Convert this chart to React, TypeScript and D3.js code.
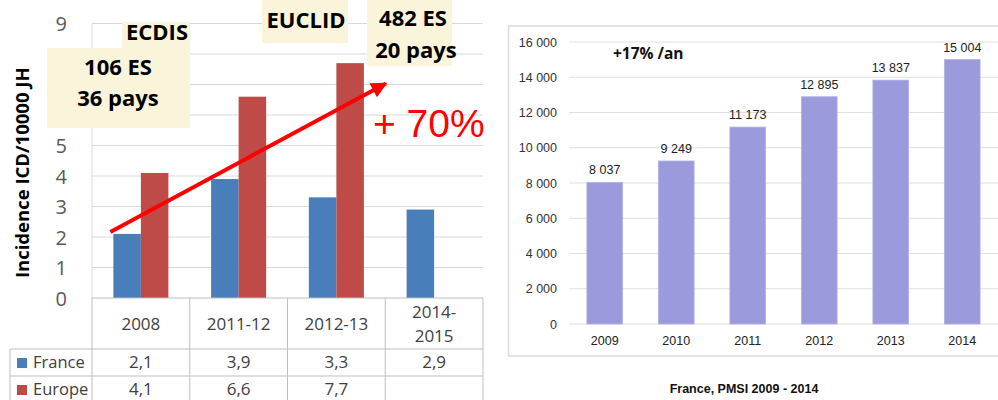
import * as d3 from "d3";

// left chart: ICD incidence per 10000 JH
const periods = ["2008", "2011-12", "2012-13", "2014-2015"];
const periodLines = [["2008"], ["2011-12"], ["2012-13"], ["2014-", "2015"]];
const france = [2.1, 3.9, 3.3, 2.9];
const europe: (number | null)[] = [4.1, 6.6, 7.7, null];
const leftTicks = [0, 1, 2, 3, 4, 5, 6, 7, 8, 9];

// right chart: PMSI counts
const years = ["2009", "2010", "2011", "2012", "2013", "2014"];
const counts = [8037, 9249, 11173, 12895, 13837, 15004];
const rightTicks = [0, 2000, 4000, 6000, 8000, 10000, 12000, 14000, 16000];

const BLUE = "#4a7ebb";
const RED = "#be4b48";
const BEIGE = "#faf4da";
const CAL = "'Open Sans', sans-serif";
const HEL = "'Liberation Sans', Arial, sans-serif";

const fr = d3.formatLocale({ decimal: ",", thousands: " ", grouping: [3], currency: ["", " €"] });
const fmtInt = fr.format(",d");
const fmtDec = fr.format(".1f");

function LeftChart() {
  const x = d3.scaleBand().domain(periods).range([92, 483]).paddingInner(0.437).paddingOuter(0.2185);
  const xCol = d3.scaleBand().domain(periods).range([92, 483]);
  const sub = d3.scaleBand().domain(["France", "Europe"]).range([0, x.bandwidth()]);
  const y = d3.scaleLinear().domain([0, 9]).range([298, 23.5]);

  const rowTop = [298, 349, 376, 404];
  const x0 = x(periods[0])!;
  const xe = x(periods[2])! + x.bandwidth();

  return (
    <g>
      {/* gridlines */}
      {leftTicks.slice(1).map((t) => (
        <line key={t} x1={92} x2={483} y1={y(t)} y2={y(t)} stroke="#d9d9d9" strokeWidth={1} />
      ))}
      <line x1={92} x2={92} y1={y(9)} y2={y(0)} stroke="#d9d9d9" />
      {leftTicks.map((t) => (
        <text key={t} x={67} y={y(t) + 7.5} textAnchor="end" fontFamily={CAL} fontSize={20} fill="#595959">
          {t}
        </text>
      ))}
      <text
        transform={`translate(29,${(y(0) + y(9)) / 2 + 12}) rotate(-90)`}
        textAnchor="middle"
        fontFamily={CAL}
        fontWeight="bold"
        fontSize={18.5}
        fill="#000"
      >
        Incidence ICD/10000 JH
      </text>

      {/* bars */}
      {periods.map((p, i) => (
        <g key={p}>
          <rect x={x(p)! + sub("France")!} y={y(france[i])} width={sub.bandwidth()} height={y(0) - y(france[i])} fill={BLUE} />
          {europe[i] != null && (
            <rect x={x(p)! + sub("Europe")!} y={y(europe[i]!)} width={sub.bandwidth()} height={y(0) - y(europe[i]!)} fill={RED} />
          )}
        </g>
      ))}

      {/* data table */}
      <g stroke="#bfbfbf" strokeWidth={1}>
        <line x1={92} x2={483} y1={rowTop[0]} y2={rowTop[0]} />
        <line x1={10} x2={483} y1={rowTop[1]} y2={rowTop[1]} />
        <line x1={10} x2={483} y1={rowTop[2]} y2={rowTop[2]} />
        <line x1={10} x2={10} y1={rowTop[1]} y2={rowTop[3]} />
        {periods.map((p) => (
          <line key={p} x1={xCol(p)!} x2={xCol(p)!} y1={rowTop[0]} y2={rowTop[3]} />
        ))}
        <line x1={483} x2={483} y1={rowTop[0]} y2={rowTop[3]} />
      </g>
      {periods.map((p, i) => {
        const cx = xCol(p)! + xCol.bandwidth() / 2;
        const lines = periodLines[i];
        const mid = (rowTop[0] + rowTop[1]) / 2;
        return (
          <g key={p} fontFamily={CAL} fontSize={17} fill="#404040" textAnchor="middle">
            {lines.map((l, j) => (
              <text key={j} x={cx} y={mid + 6 + (j - (lines.length - 1) / 2) * 24}>
                {l}
              </text>
            ))}
            <text x={cx} y={rowTop[1] + 19}>{fmtDec(france[i])}</text>
            {europe[i] != null && <text x={cx} y={rowTop[2] + 19}>{fmtDec(europe[i]!)}</text>}
          </g>
        );
      })}
      <rect x={17} y={rowTop[1] + 9} width={10} height={10} fill={BLUE} />
      <text x={33} y={rowTop[1] + 19} fontFamily={CAL} fontSize={16.5} fill="#404040">France</text>
      <rect x={17} y={rowTop[2] + 9} width={10} height={10} fill={RED} />
      <text x={33} y={rowTop[2] + 19} fontFamily={CAL} fontSize={16.5} fill="#404040">Europe</text>

      {/* red trend arrow */}
      <defs>
        <marker id="ah" viewBox="0 0 10 10" refX="9" refY="5" markerWidth="4.5" markerHeight="4" orient="auto" markerUnits="strokeWidth">
          <path d="M0,0 L10,5 L0,10 z" fill="#ff0000" />
        </marker>
      </defs>
      <line
        x1={x0 - 3}
        y1={y(2.1) - 2}
        x2={xe + 22}
        y2={y(7.1) + 2}
        stroke="#ff0000"
        strokeWidth={4}
        markerEnd="url(#ah)"
      />
      <text x={373} y={137} fontFamily={HEL} fontSize={39} fill="#ff0000">+ 70%</text>

      {/* annotation boxes */}
      <rect x={122} y={22} width={68} height={28} fill={BEIGE} />
      <rect x={47} y={48} width={143} height={80} fill={BEIGE} />
      <rect x={262} y={0} width={86} height={43} fill={BEIGE} />
      <rect x={367} y={0} width={85} height={66} fill={BEIGE} />
      <g fontFamily={CAL} fontWeight="bold" fontSize={22} fill="#000" textAnchor="middle">
        <text x={157} y={40}>ECDIS</text>
        <text x={118} y={75}>106 ES</text>
        <text x={118} y={106}>36 pays</text>
        <text x={306} y={28}>EUCLID</text>
        <text x={413} y={26}>482 ES</text>
        <text x={416} y={58}>20 pays</text>
      </g>
    </g>
  );
}

function RightChart() {
  const x = d3.scaleBand().domain(years).range([569, 998]).paddingInner(0.5).paddingOuter(0.25);
  const y = d3.scaleLinear().domain([0, 16000]).range([324, 42]);
  return (
    <g>
      <rect x={508.5} y={26} width={520} height={330} fill="#fff" stroke="#dcdcdc" strokeWidth={1.5} />
      {rightTicks.map((t) => (
        <g key={t}>
          <line x1={569} x2={998} y1={y(t)} y2={y(t)} stroke="#e0e0e0" strokeWidth={1} />
          <text x={557} y={y(t) + 4.5} textAnchor="end" fontFamily={HEL} fontSize={12.5} fill="#333">
            {fmtInt(t)}
          </text>
        </g>
      ))}
      {years.map((yr, i) => (
        <g key={yr}>
          <rect x={x(yr)!} y={y(counts[i])} width={x.bandwidth()} height={y(0) - y(counts[i])} fill="#9b9adc" stroke="#b4b3e6" strokeWidth={0.8} />
          <text x={x(yr)! + x.bandwidth() / 2} y={y(counts[i]) - 8} textAnchor="middle" fontFamily={HEL} fontSize={12.5} fill="#222">
            {fmtInt(counts[i])}
          </text>
          <text x={x(yr)! + x.bandwidth() / 2} y={345} textAnchor="middle" fontFamily={HEL} fontSize={12.5} fill="#222">
            {yr}
          </text>
        </g>
      ))}
      <text x={613} y={59} fontFamily={CAL} fontWeight="bold" fontSize={15.5} fill="#111">+17% /an</text>
      <text x={744} y={393} textAnchor="middle" fontFamily={HEL} fontWeight="bold" fontSize={12.5} fill="#111">
        France, PMSI 2009 - 2014
      </text>
    </g>
  );
}

export default function App() {
  return (
    <svg
      width={998}
      height={400}
      style={{ position: "absolute", left: 0, top: 0, background: "#fff" }}
    >
      <rect width={998} height={400} fill="#fff" />
      <LeftChart />
      <RightChart />
    </svg>
  );
}
